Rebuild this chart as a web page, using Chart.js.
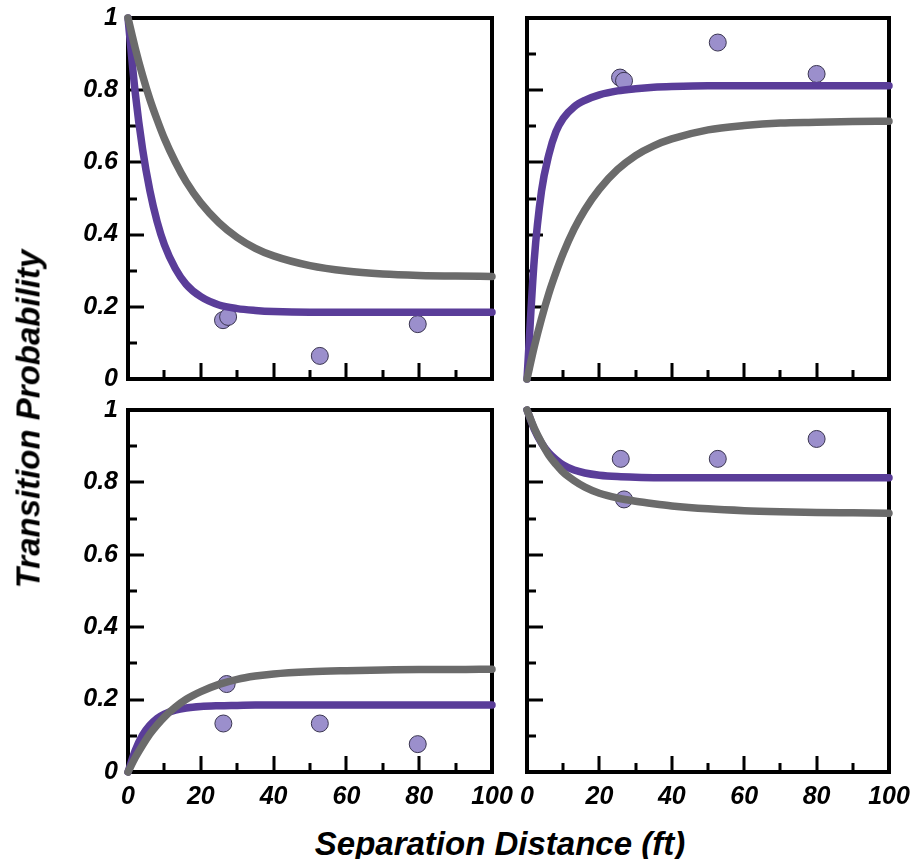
<!DOCTYPE html>
<html>
<head>
<meta charset="utf-8">
<script src="https://cdn.jsdelivr.net/npm/chart.js@4.4.1/dist/chart.umd.min.js"></script>
<style>
  body { margin: 0; background: #fff; }
  #wrap { position: relative; width: 915px; height: 859px; overflow: hidden; }
  canvas { position: absolute; }
  .title {
    position: absolute;
    font: italic bold 33px "Liberation Sans", Arial, sans-serif;
    line-height: 1;
    white-space: nowrap;
    color: #000;
    transform: translate(-50%, -50%);
  }
</style>
</head>
<body>
<div id="wrap">
  <canvas id="tl" width="530" height="400" style="left:0;top:0"></canvas>
  <canvas id="tr" width="405" height="400" style="left:510px;top:0"></canvas>
  <canvas id="bl" width="530" height="420" style="left:0;top:400px"></canvas>
  <canvas id="br" width="405" height="420" style="left:510px;top:400px"></canvas>
  <div class="title" style="left:500px;top:843px">Separation Distance (ft)</div>
  <div class="title" style="left:28px;top:419px;transform:translate(-50%,-50%) rotate(-90deg)">Transition Probability</div>
</div>
<script>
// separation distance (ft) where the model curves were read
const curveX = [0, 2, 4, 6, 8, 10, 13, 16, 20, 25, 30, 35, 40, 50, 60, 70, 80, 90, 100];

// top left
const tlGray   = [1, 0.916, 0.841, 0.775, 0.718, 0.666, 0.601, 0.546, 0.488, 0.433, 0.392, 0.362, 0.341, 0.314, 0.299, 0.291, 0.287, 0.285, 0.284];
const tlPurple = [1, 0.792, 0.637, 0.522, 0.436, 0.372, 0.306, 0.262, 0.228, 0.205, 0.195, 0.19, 0.187, 0.185, 0.185, 0.185, 0.185, 0.185, 0.185];
const tlPtsX = [26.1, 27.5, 52.7, 79.6];
const tlPtsY = [0.163, 0.172, 0.064, 0.152];

// top right
const trGray   = [0, 0.089, 0.167, 0.236, 0.295, 0.348, 0.415, 0.469, 0.526, 0.58, 0.619, 0.646, 0.665, 0.69, 0.702, 0.709, 0.711, 0.713, 0.714];
const trPurple = [0, 0.33, 0.52, 0.62, 0.685, 0.722, 0.754, 0.772, 0.787, 0.798, 0.804, 0.808, 0.81, 0.812, 0.812, 0.812, 0.812, 0.812, 0.812];
const trPtsX = [25.7, 26.8, 52.7, 80];
const trPtsY = [0.835, 0.826, 0.932, 0.845];

// bottom left
const blGray   = [0, 0.04, 0.074, 0.105, 0.13, 0.152, 0.179, 0.201, 0.222, 0.242, 0.256, 0.265, 0.271, 0.277, 0.28, 0.282, 0.283, 0.283, 0.284];
const blPurple = [0, 0.06, 0.102, 0.129, 0.148, 0.16, 0.171, 0.177, 0.181, 0.183, 0.184, 0.185, 0.185, 0.185, 0.185, 0.185, 0.185, 0.185, 0.185];
const blPtsX = [27.1, 26.2, 52.7, 79.6];
const blPtsY = [0.243, 0.134, 0.134, 0.077];

// bottom right
const brGray   = [1, 0.95, 0.91, 0.875, 0.85, 0.828, 0.805, 0.787, 0.77, 0.757, 0.748, 0.741, 0.735, 0.727, 0.722, 0.719, 0.717, 0.716, 0.715];
const brPurple = [1, 0.947, 0.909, 0.882, 0.863, 0.848, 0.834, 0.826, 0.82, 0.816, 0.814, 0.813, 0.813, 0.813, 0.813, 0.813, 0.813, 0.813, 0.813];
const brPtsX = [25.9, 26.8, 52.7, 80];
const brPtsY = [0.865, 0.753, 0.865, 0.92];

const GRAY = "#6b6b6b";
const PURPLE = "#5a3d99";
const tickFont = { family: '"Liberation Sans", Arial, sans-serif', size: 25, weight: "bold", style: "italic" };

// box around each panel plus inward tick marks on left and bottom
const framePlugin = {
  id: "frame",
  beforeDatasetsDraw(chart) {
    const { ctx, chartArea: a, scales: { x, y } } = chart;
    ctx.save();
    ctx.strokeStyle = "#000";
    ctx.lineWidth = 4;
    ctx.strokeRect(a.left, a.top, a.right - a.left, a.bottom - a.top);
    ctx.lineWidth = 3;
    ctx.beginPath();
    x.ticks.forEach(t => {
      if (t.value <= 0 || t.value >= 100) return;
      const px = Math.round(x.getPixelForValue(t.value));
      const len = t.value % 20 === 0 ? 16 : 9;
      ctx.moveTo(px, a.bottom);
      ctx.lineTo(px, a.bottom - len);
    });
    y.ticks.forEach(t => {
      const k = Math.round(t.value * 10);
      if (k <= 0 || k >= 10) return;
      const py = Math.round(y.getPixelForValue(t.value));
      const len = k % 2 === 0 ? 16 : 9;
      ctx.moveTo(a.left, py);
      ctx.lineTo(a.left + len, py);
    });
    ctx.stroke();
    ctx.restore();
  }
};

function toPoints(xs, ys) {
  return xs.map((v, i) => ({ x: v, y: ys[i] }));
}

function curve(values, color) {
  return {
    data: toPoints(curveX, values),
    borderColor: color,
    borderWidth: 7.5,
    borderCapStyle: "round",
    borderJoinStyle: "round",
    cubicInterpolationMode: "monotone",
    pointRadius: 0,
    clip: false
  };
}

function renderPanel(id, gray, purple, ptsX, ptsY, opt) {
  new Chart(document.getElementById(id), {
    type: "line",
    data: {
      datasets: [
        curve(gray, GRAY),
        curve(purple, PURPLE),
        {
          data: toPoints(ptsX, ptsY),
          showLine: false,
          pointRadius: 8.5,
          pointBackgroundColor: "#9b8fcc",
          pointBorderColor: "#3a3550",
          pointBorderWidth: 1,
          clip: false
        }
      ]
    },
    options: {
      responsive: false,
      devicePixelRatio: 1,
      animation: false,
      layout: { padding: { top: opt.padTop, right: opt.padRight, left: 0, bottom: 0 } },
      plugins: { legend: { display: false }, tooltip: { enabled: false } },
      scales: {
        x: {
          type: "linear",
          min: 0,
          max: 100,
          grid: { display: false, drawTicks: false },
          border: { display: false },
          ticks: {
            display: opt.showX,
            stepSize: 10,
            autoSkip: false,
            maxRotation: 0,
            padding: 10,
            color: "#000",
            font: tickFont,
            callback: v => (v % 20 === 0 ? String(v) : "")
          },
          afterFit: s => { s.height = opt.xHeight; s.paddingLeft = 0; s.paddingRight = 0; }
        },
        y: {
          min: 0,
          max: 1,
          grid: { display: false, drawTicks: false },
          border: { display: false },
          ticks: {
            display: opt.showY,
            stepSize: 0.1,
            autoSkip: false,
            padding: 10,
            color: "#000",
            font: tickFont,
            callback: v => {
              const k = Math.round(v * 10);
              return k % 2 === 0 ? String(k / 10) : "";
            }
          },
          afterFit: s => { s.width = opt.yWidth; s.paddingTop = 0; s.paddingBottom = 0; }
        }
      }
    },
    plugins: [framePlugin]
  });
}

renderPanel("tl", tlGray, tlPurple, tlPtsX, tlPtsY,
  { showX: false, showY: true, yWidth: 128, xHeight: 21, padTop: 18, padRight: 38 });
renderPanel("tr", trGray, trPurple, trPtsX, trPtsY,
  { showX: false, showY: false, yWidth: 17, xHeight: 21, padTop: 18, padRight: 26 });
renderPanel("bl", blGray, blPurple, blPtsX, blPtsY,
  { showX: true, showY: true, yWidth: 128, xHeight: 48, padTop: 10, padRight: 38 });
renderPanel("br", brGray, brPurple, brPtsX, brPtsY,
  { showX: true, showY: false, yWidth: 17, xHeight: 48, padTop: 10, padRight: 26 });
</script>
</body>
</html>
